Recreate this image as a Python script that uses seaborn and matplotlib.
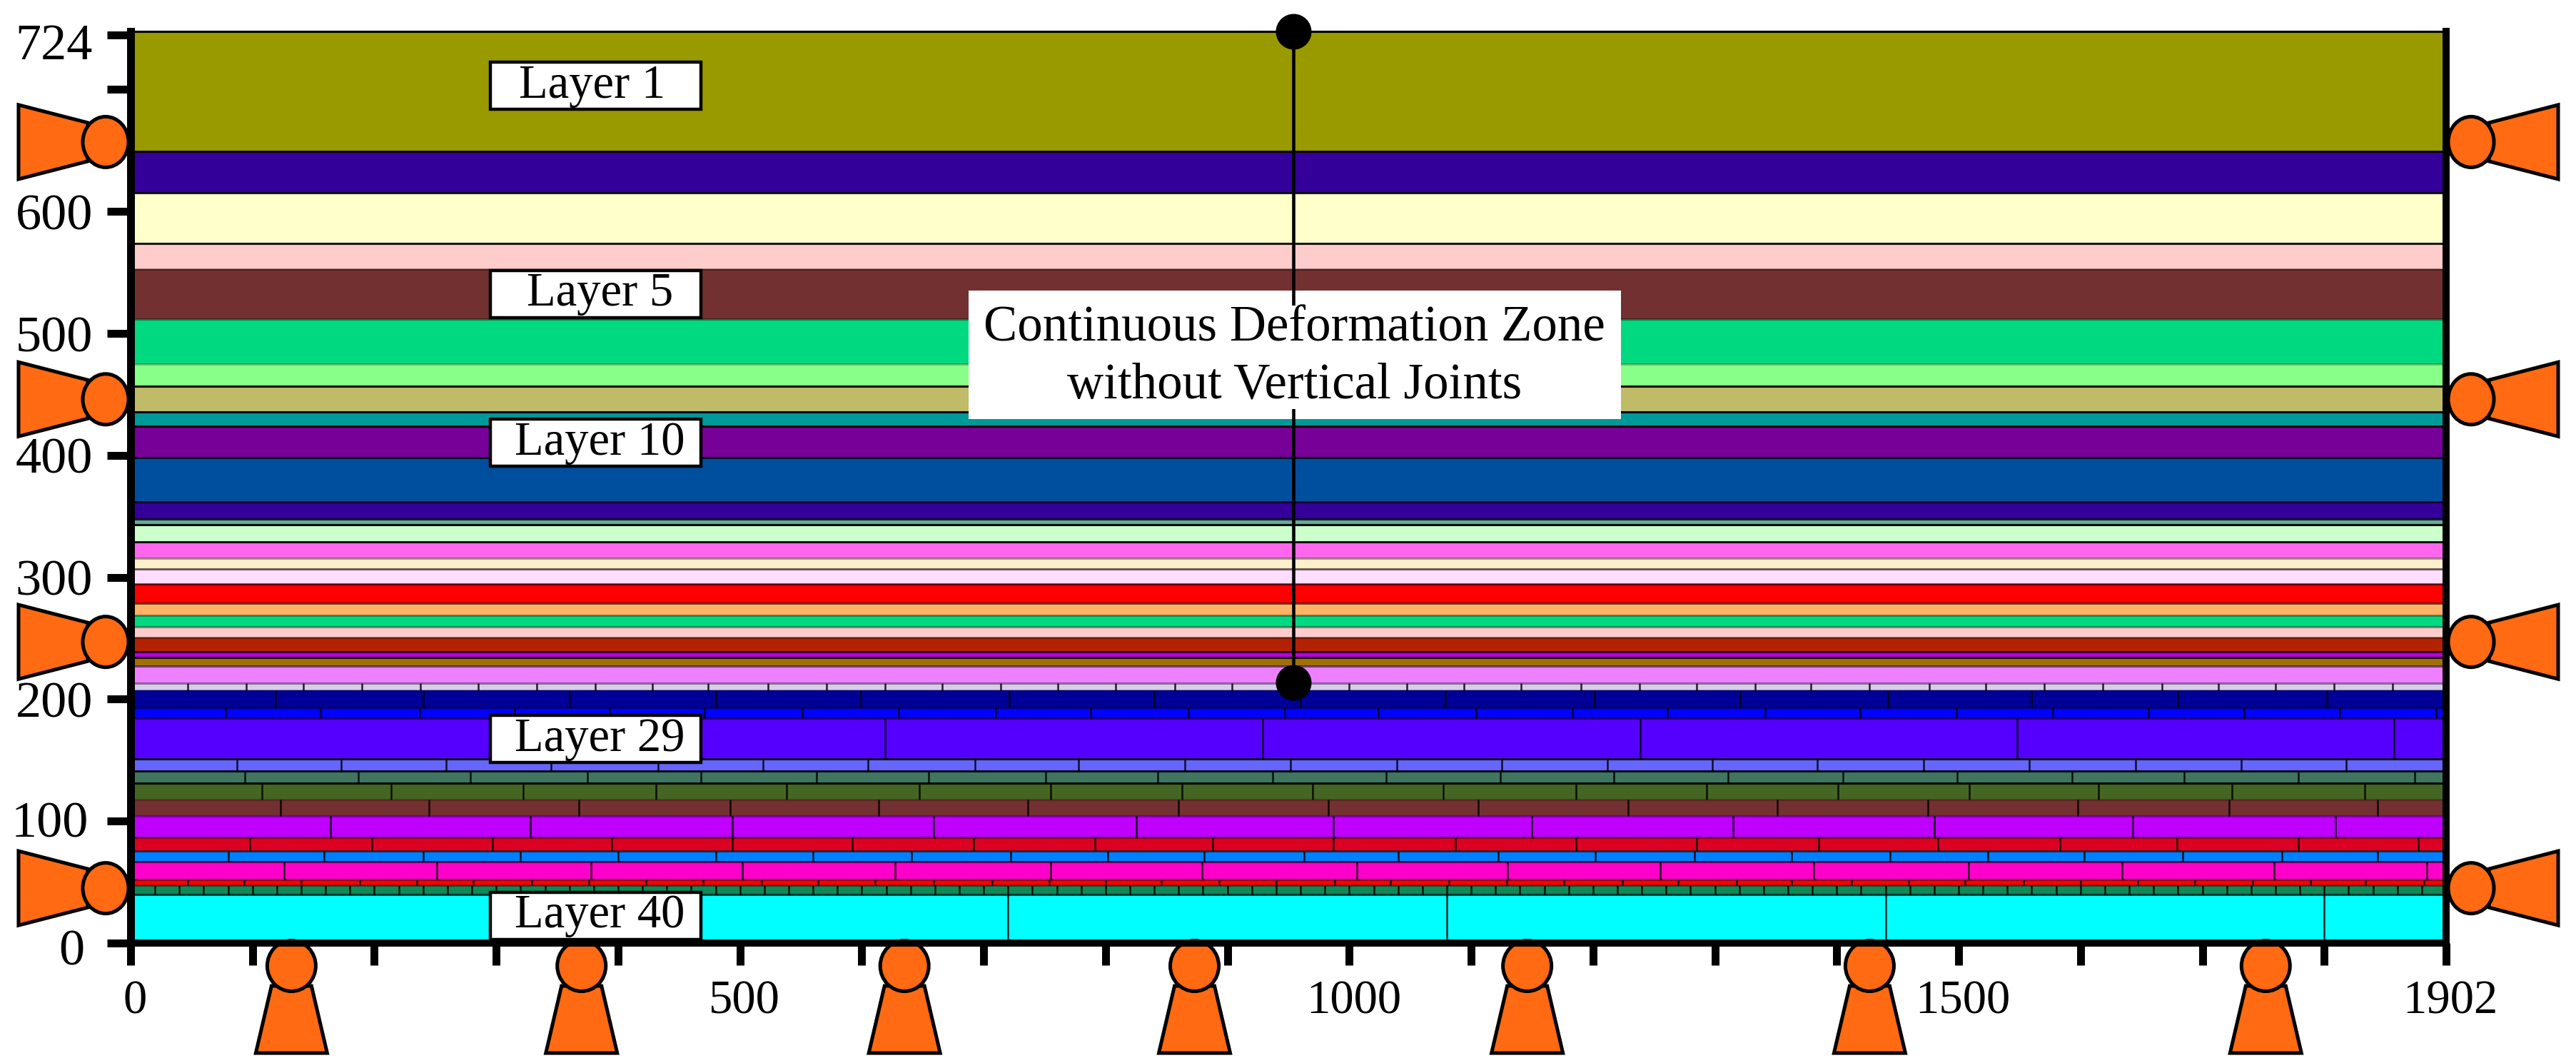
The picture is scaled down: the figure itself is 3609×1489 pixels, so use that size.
import matplotlib
matplotlib.use('Agg')
import matplotlib.pyplot as plt
from matplotlib.patches import Ellipse, Polygon, Rectangle
from matplotlib.transforms import ScaledTranslation
import seaborn as sns

# top edge of each layer, layer 1 first (model height units)
layer_top = [748, 649.3, 615.3, 573.8, 552.7, 511.7, 474.8, 456.7, 435.6, 423.9,
             398.1, 361.8, 347.8, 343.1, 329.0, 315.6, 306.8, 294.5, 278.7, 268.7,
             259.4, 250.6, 238.9, 234.2, 227.2, 213.1, 207.3, 193.2, 184.4, 151.1,
             141.1, 131.1, 117.7, 104.2, 86.7, 75.5, 66.7, 52.1, 47.4, 39.8]

layer_colors = ['#999900', '#330099', '#FFFFCC', '#FFCCCC', '#733030', '#00D97F', '#88FF88', '#C0BB66',
                '#009999', '#770099', '#004F9F', '#330099', '#66AA99', '#CCFFCC', '#FF66EE', '#FFF0CC',
                '#FFDDFF', '#FF0000', '#FFB366', '#00D97F', '#FFCCCC', '#B32200', '#BB00DD', '#A07000',
                '#EE80FF', '#D6CCEE', '#000099', '#0000FF', '#5500FF', '#6666FF', '#407560', '#446622',
                '#733030', '#BF00FF', '#DD0022', '#0080FF', '#FF00CC', '#FF0000', '#118855', '#00FFFF']

# how dark the line under each layer looks
boundary_alpha = [.85, .9, .9, .35, .4, .25, .95, .95, .95, .85, .7, .8, .95, .9, .35, .6, .6, .6, .35, .4,
                  .4, .7, .9, .5, .4, .3, .5, .5, .85, .9, .95, .2, .3, .5, .6, .6, .5, .4, .7]

# vertical joints per layer
joints_26 = [47, 95, 142, 190, 238, 285, 333, 381, 428, 474, 523, 571, 619, 666, 714, 761, 808, 857, 904, 951,
             1000, 1047, 1094, 1141, 1190, 1238, 1285, 1333, 1379, 1427, 1476, 1522, 1570, 1618, 1667, 1713,
             1760, 1808, 1856]
joints_27 = [119, 240, 360, 480, 599, 721, 840, 960, 1079, 1201, 1321, 1442, 1560, 1680, 1802]
joints_28 = [78, 156, 237, 315, 393, 471, 551, 630, 710, 788, 868, 947, 1024, 1104, 1183, 1261, 1341, 1419,
             1498, 1577, 1656, 1734, 1813, 1892]
joints_29 = [310, 619, 929, 1239, 1548, 1857]
joints_30 = [87, 173, 259, 345, 433, 519, 605, 693, 778, 865, 952, 1039, 1125, 1212, 1298, 1384, 1471, 1558,
             1645, 1732, 1818]
joints_31 = [94, 187, 279, 375, 468, 563, 655, 751, 843, 937, 1030, 1124, 1217, 1311, 1405, 1499, 1593, 1685,
             1779, 1874]
joints_32 = [108, 214, 322, 431, 538, 647, 755, 863, 970, 1077, 1186, 1293, 1401, 1509, 1615, 1724, 1833]
joints_33 = [123, 245, 368, 492, 614, 736, 860, 983, 1106, 1229, 1351, 1475, 1598, 1722, 1844]
joints_34 = [164, 328, 494, 659, 825, 987, 1150, 1315, 1480, 1643, 1809]
joints_35 = [98, 198, 297, 395, 494, 592, 692, 791, 888, 987, 1087, 1186, 1285, 1385, 1483, 1583, 1679, 1779, 1877]
joints_36 = [80, 159, 240, 320, 400, 480, 560, 641, 722, 802, 881, 963, 1040, 1122, 1202, 1283, 1363, 1444,
             1524, 1603, 1684, 1765, 1844]
joints_37 = [126, 251, 378, 502, 627, 755, 879, 1006, 1130, 1255, 1381, 1508, 1634, 1759, 1884]
joints_38 = [47, 93, 140, 188, 235, 281, 329, 376, 423, 470, 518, 564, 611, 659, 707, 754, 800, 846, 893, 940,
             988, 1034, 1082, 1129, 1176, 1224, 1270, 1318, 1363, 1412, 1459, 1505, 1553, 1600, 1647, 1694,
             1741, 1789, 1834, 1882]
joints_39 = [20, 40, 60, 80, 100, 120, 140, 160, 180, 200, 220, 240, 260, 280, 300, 320, 340, 360, 380, 400,
             420, 440, 460, 480, 500, 520, 540, 560, 580, 600, 620, 640, 660, 680, 700, 720, 740, 760, 780, 800,
             820, 840, 860, 880, 900, 920, 940, 960, 980, 1000, 1020, 1040, 1060, 1080, 1100, 1120, 1140, 1160,
             1180, 1200, 1220, 1240, 1260, 1280, 1300, 1320, 1340, 1360, 1380, 1400, 1420, 1440, 1460, 1480,
             1500, 1520, 1540, 1560, 1580, 1600, 1620, 1640, 1660, 1680, 1700, 1720, 1740, 1760, 1780, 1800,
             1820, 1840, 1860, 1880]
joints_40 = [360, 720, 1080, 1440, 1800]

# tick labels as printed: the end ticks carry 724 and 1902
y_ticks = [0, 100, 200, 300, 400, 500, 600, 700, 745]
y_tick_labels = ['0', '100', '200', '300', '400', '500', '600', '', '724']
x_ticks = [0, 100, 200, 300, 400, 500, 600, 700, 800, 900, 1000, 1100, 1200, 1300, 1400, 1500, 1600, 1700, 1800, 1900]
x_tick_labels = ['0', '', '', '', '', '500', '', '', '', '', '1000', '', '', '', '', '1500', '', '', '', '1902']

layer_names = ['Layer 1', 'Layer 5', 'Layer 10', 'Layer 29', 'Layer 40']
layer_name_x = [379, 385, 385, 385, 385]
layer_name_y = [703.2, 532.5, 410.4, 167.4, 22.5]

side_support_y = [657, 446, 247, 45]
bottom_support_x = [132, 370, 635, 873, 1146, 1427, 1752]

monitor_x = [954, 954]
monitor_y = [214, 748]
zone_text = ['Continuous Deformation Zone', 'without Vertical Joints']
zone_text_y = [504.1, 457.3]

ORANGE = '#FF6A13'
PX = 1 / 1.707  # one image pixel in data units


# Side roller: wide end points away from the model, side is -1 (left) or 1 (right)
def draw_side_support(ax, x0, y, side):
    trapezoid = [(x0 + side * 60 * PX, y + 27 * PX), (x0 + side * 157 * PX, y + 52 * PX),
                 (x0 + side * 157 * PX, y - 52 * PX), (x0 + side * 60 * PX, y - 27 * PX)]
    ax.add_patch(Polygon(trapezoid, facecolor=ORANGE, edgecolor='black', linewidth=3.6, clip_on=False, zorder=2))
    ax.add_patch(Ellipse((x0 + side * 35 * PX, y), 64 * PX, 71 * PX, facecolor=ORANGE, edgecolor='black',
                         linewidth=3.6, clip_on=False, zorder=2))


def draw_bottom_support(ax, x):
    trapezoid = [(x - 28 * PX, -60 * PX), (x + 28 * PX, -60 * PX), (x + 50 * PX, -154 * PX), (x - 50 * PX, -154 * PX)]
    ax.add_patch(Polygon(trapezoid, facecolor=ORANGE, edgecolor='black', linewidth=3.6, clip_on=False, zorder=2))
    ax.add_patch(Ellipse((x, -32 * PX), 68 * PX, 71 * PX, facecolor=ORANGE, edgecolor='black', linewidth=3.6,
                         clip_on=False, zorder=2))


# Shift a tick label by a few image pixels (y pixels counted downwards)
def nudge(fig, label, dx, dy):
    offset = ScaledTranslation(dx * 0.72 / 72, -dy * 0.72 / 72, fig.dpi_scale_trans)
    label.set_transform(label.get_transform() + offset)


def main():
    sns.set_theme(style='white')
    plt.rcParams['font.family'] = 'Liberation Serif'

    fig = plt.figure(figsize=(36.09, 14.89), dpi=100)
    ax = fig.add_axes([183 / 3609, 1 - 1321 / 1489, 3244 / 3609, 1277.5 / 1489])

    # layers as one horizontal histogram whose bins are the layer boundaries
    layer_bottom = layer_top[1:] + [0]
    layer_mid = [(t + b) / 2 for t, b in zip(layer_top, layer_bottom)]
    edges = sorted(layer_bottom) + [layer_top[0]]
    sns.histplot(y=layer_mid, weights=[1900] * len(layer_mid), bins=edges, ax=ax, alpha=1, linewidth=0, legend=False)
    for patch, color in zip(ax.patches, layer_colors[::-1]):
        patch.set_facecolor(color)

    ax.set_xlim(0, 1900)
    ax.set_ylim(0, 748)

    line_colors = [(0, 0, 0, a) for a in boundary_alpha]
    ax.hlines(layer_top[1:], 0, 1900, colors=line_colors, linewidth=2.2, zorder=1.5)

    all_joints = {26: joints_26, 27: joints_27, 28: joints_28, 29: joints_29, 30: joints_30,
                  31: joints_31, 32: joints_32, 33: joints_33, 34: joints_34, 35: joints_35,
                  36: joints_36, 37: joints_37, 38: joints_38, 39: joints_39, 40: joints_40}
    for layer, joints in all_joints.items():
        ax.vlines(joints, layer_bottom[layer - 1], layer_top[layer - 1], color='black', alpha=.85,
                  linewidth=1.8, zorder=1.6)

    for y in side_support_y:
        draw_side_support(ax, 0, y, -1)
        draw_side_support(ax, 1900, y, 1)
    for x in bottom_support_x:
        draw_bottom_support(ax, x)

    # layer name tags
    for name, x, y in zip(layer_names, layer_name_x, layer_name_y):
        ax.add_patch(Rectangle((295, y - 19.3), 172.8, 38.6, facecolor='white', edgecolor='black',
                               linewidth=3.2, zorder=4))
        ax.text(x, y, name, ha='center', va='center', fontsize=48, color='black', zorder=5)

    # monitoring line, partly hidden by the zone box
    ax.add_patch(Rectangle((687.6, 429.7), 535.3, 105.4, facecolor='white', edgecolor='none', zorder=3))
    sns.lineplot(x=monitor_x, y=monitor_y, ax=ax, color='black', linewidth=3.3, marker='o', markersize=36,
                 markeredgewidth=0, estimator=None, sort=False, clip_on=False, zorder=3.5, legend=False)
    ax.add_patch(Rectangle((687.6, 437.9), 535.3, 84.9, facecolor='white', edgecolor='none', zorder=3.6))
    for line, y in zip(zone_text, zone_text_y):
        ax.text(955, y, line, ha='center', va='center', fontsize=51, color='black', zorder=5)

    ax.set_xticks(x_ticks)
    ax.set_xticklabels(x_tick_labels)
    ax.set_yticks(y_ticks)
    ax.set_yticklabels(y_tick_labels)
    ax.set_xlabel('')
    ax.set_ylabel('')
    ax.tick_params(axis='x', bottom=True, length=22.3, width=7.9, pad=16.5, labelsize=48, color='black', labelcolor='black')
    ax.tick_params(axis='y', left=True, length=23.8, width=7.9, pad=14.4, labelsize=52, color='black', labelcolor='black')

    for label in ax.get_xticklabels():
        nudge(fig, label, 6, -2)
    y_labels = ax.get_yticklabels()
    nudge(fig, y_labels[0], -12, 5)
    nudge(fig, y_labels[1], -6, -3)
    nudge(fig, y_labels[-1], 0, 9)

    for side, width in zip(['left', 'bottom', 'right', 'top'], [7.9, 7.2, 7.2, 2.2]):
        ax.spines[side].set_visible(True)
        ax.spines[side].set_color('black')
        ax.spines[side].set_linewidth(width)

    fig.savefig('out.png', dpi=100)
    plt.close(fig)


if __name__ == '__main__':
    main()
